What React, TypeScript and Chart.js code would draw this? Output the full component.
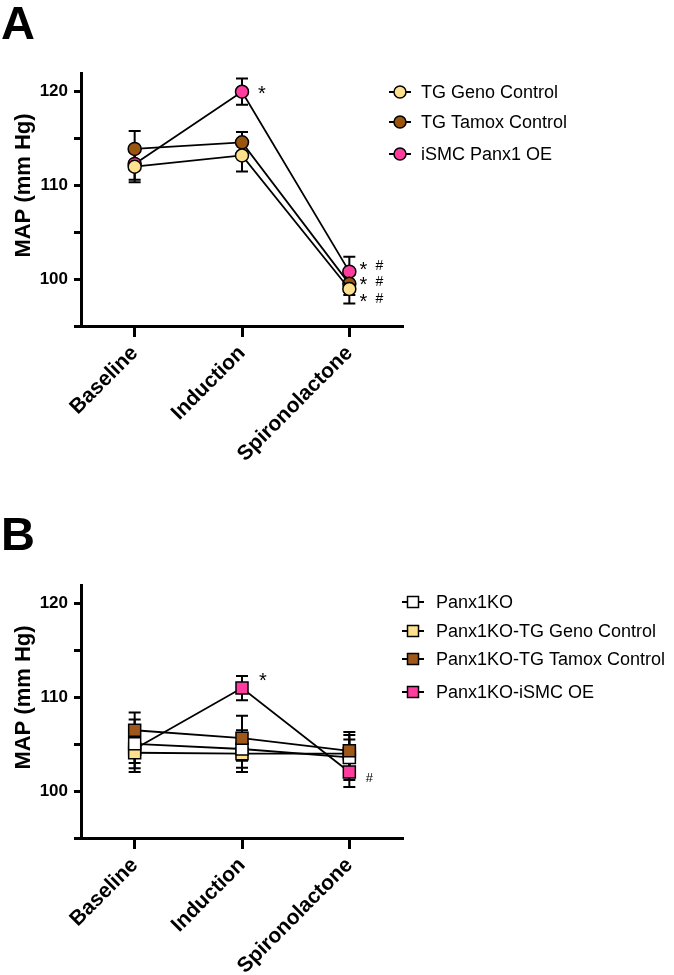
import React, { useEffect, useRef } from 'react';
import { Chart, registerables } from 'chart.js';

Chart.register(...registerables);

const FONT = "'Liberation Sans', Arial, Helvetica, sans-serif";

// ---------- shared ----------
const categories = ['Baseline', 'Induction', 'Spironolactone'];
const yMin = 95;
const yMax = 122;
const yTickValues = [95, 100, 105, 110, 115, 120];
const yLabelled = [100, 110, 120];
const yTitle = 'MAP (mm Hg)';

// ---------- panel A ----------
const seriesA = ['TG Geno Control', 'TG Tamox Control', 'iSMC Panx1 OE'];
const genoA = [112.0, 113.2, 98.95];
const genoAErr = [1.65, 1.7, 1.55];
const tamoxA = [113.9, 114.6, 99.5];
const tamoxAErr = [1.9, 1.1, 1.2];
const oeA = [112.3, 120.0, 100.8];
const oeAErr = [1.7, 1.4, 1.6];
const colorsA = ['#FFE08C', '#9A560F', '#FF3D9E'];
const drawOrderA = [0, 1, 2];
// significance marks: [category index, value]
const inductionStarsA = [[1, 120.1]];
const starsA = [[2, 101.4], [2, 99.7], [2, 97.9]];
const hashesA = [[2, 101.4], [2, 99.7], [2, 97.9]];

// ---------- panel B ----------
const seriesB = ['Panx1KO', 'Panx1KO-TG Geno Control', 'Panx1KO-TG Tamox Control', 'Panx1KO-iSMC OE'];
const koB = [105.05, 104.5, 103.6];
const koBErr = [2.6, 2.0, 2.4];
const genoB = [104.1, 104.0, 104.0];
const genoBErr = [2.05, 1.95, 1.5];
const tamoxB = [106.5, 105.65, 104.3];
const tamoxBErr = [1.9, 2.4, 2.0];
const oeB = [104.5, 111.0, 102.05];
const oeBErr = [1.5, 1.3, 1.6];
const colorsB = ['#FFFFFF', '#FFE08C', '#A0581A', '#FF3DA0'];
const drawOrderB = [1, 2, 0, 3];
const inductionStarsB = [[1, 112.1]];
const hashesB = [[2, 101.4]];

type Mark = number[];

function errorBarPlugin(errors: number[][]) {
  return {
    id: 'errorBars',
    beforeDatasetsDraw(chart: any) {
      const { ctx, scales } = chart;
      const x = scales.x;
      const y = scales.y;
      ctx.save();
      ctx.strokeStyle = '#000';
      ctx.lineWidth = 2;
      const cap = 6;
      chart.data.datasets.forEach((ds: any, i: number) => {
        const errs = errors[i];
        ds.data.forEach((v: number, j: number) => {
          const px = x.getPixelForValue(j);
          const top = y.getPixelForValue(v + errs[j]);
          const bot = y.getPixelForValue(v - errs[j]);
          ctx.beginPath();
          ctx.moveTo(px, top);
          ctx.lineTo(px, bot);
          ctx.moveTo(px - cap, top);
          ctx.lineTo(px + cap, top);
          ctx.moveTo(px - cap, bot);
          ctx.lineTo(px + cap, bot);
          ctx.stroke();
        });
      });
      ctx.restore();
    },
  };
}

interface Deco {
  letter: string;
  letterBaseline: number;
  inductionStars: Mark[];
  stars: Mark[];
  hashes: Mark[];
  inductionStarDx: number;
  starDx: number;
  hashDx: number;
  hashSize: number;
  legendX: number; // marker centre
  legendRows: number[];
  legendTextGap: number;
  shape: 'circle' | 'rect';
}

function decoPlugin(d: Deco) {
  return {
    id: 'deco',
    afterDraw(chart: any) {
      const { ctx, chartArea, scales } = chart;
      const x = scales.x;
      const y = scales.y;
      ctx.save();
      ctx.fillStyle = '#000';
      // panel letter
      ctx.font = `bold 47px ${FONT}`;
      ctx.textAlign = 'left';
      ctx.textBaseline = 'alphabetic';
      ctx.fillText(d.letter, 1, d.letterBaseline);
      // y title
      ctx.save();
      ctx.font = `bold 22px ${FONT}`;
      ctx.translate(24, (chartArea.top + chartArea.bottom) / 2 - 14);
      ctx.rotate(-Math.PI / 2);
      ctx.textAlign = 'center';
      ctx.textBaseline = 'middle';
      ctx.fillText(yTitle, 0, 0);
      ctx.restore();
      // significance marks
      ctx.textAlign = 'center';
      ctx.textBaseline = 'middle';
      ctx.font = `20px ${FONT}`;
      d.inductionStars.forEach(([c, v]) => {
        ctx.fillText('*', x.getPixelForValue(c) + d.inductionStarDx, y.getPixelForValue(v) + 4);
      });
      d.stars.forEach(([c, v]) => {
        ctx.fillText('*', x.getPixelForValue(c) + d.starDx, y.getPixelForValue(v) + 4);
      });
      ctx.font = `${d.hashSize}px ${FONT}`;
      d.hashes.forEach(([c, v]) => {
        ctx.fillText('#', x.getPixelForValue(c) + d.hashDx, y.getPixelForValue(v));
      });
      // legend
      chart.data.datasets.forEach((ds: any, i: number) => {
        const cy = d.legendRows[i];
        const cx = d.legendX;
        ctx.strokeStyle = '#000';
        ctx.lineWidth = 2;
        ctx.beginPath();
        ctx.moveTo(cx - 11, cy);
        ctx.lineTo(cx + 11, cy);
        ctx.stroke();
        ctx.fillStyle = ds.backgroundColor;
        ctx.lineWidth = 1.5;
        ctx.beginPath();
        if (d.shape === 'circle') {
          ctx.arc(cx, cy, 6, 0, Math.PI * 2);
        } else {
          ctx.rect(cx - 5.5, cy - 5.5, 11, 11);
        }
        ctx.fill();
        ctx.stroke();
        ctx.fillStyle = '#000';
        ctx.font = `18px ${FONT}`;
        ctx.textAlign = 'left';
        ctx.textBaseline = 'middle';
        ctx.fillText(ds.label, cx + d.legendTextGap, cy + 1);
      });
      ctx.restore();
    },
  };
}

function buildConfig(opts: {
  series: string[];
  values: number[][];
  errors: number[][];
  colors: string[];
  order: number[];
  pointStyle: string;
  radius: number;
  top: number;
  xHeight: number;
  deco: Deco;
}): any {
  return {
    type: 'line',
    data: {
      labels: categories,
      datasets: opts.series.map((name, i) => ({
        label: name,
        data: opts.values[i],
        order: opts.order[i],
        backgroundColor: opts.colors[i],
        borderColor: '#000',
        borderWidth: 1.8,
        pointStyle: opts.pointStyle,
        pointRadius: opts.radius,
        pointHoverRadius: opts.radius,
        pointBackgroundColor: opts.colors[i],
        pointBorderColor: '#000',
        pointBorderWidth: 1.5,
        tension: 0,
        clip: false,
      })),
    },
    options: {
      responsive: false,
      animation: false,
      events: [],
      layout: { padding: { top: opts.top, right: 271, left: 0, bottom: 0 } },
      plugins: { legend: { display: false }, tooltip: { enabled: false } },
      scales: {
        x: {
          type: 'category',
          offset: true,
          grid: {
            display: true,
            drawOnChartArea: false,
            drawTicks: true,
            tickLength: 11,
            tickWidth: 3,
            tickColor: '#000',
          },
          border: { display: true, width: 3, color: '#000' },
          ticks: {
            color: '#000',
            font: { family: FONT, size: 21, weight: 'bold' },
            maxRotation: 45,
            minRotation: 45,
            padding: 4,
            autoSkip: false,
          },
          afterFit: (s: any) => {
            s.height = opts.xHeight;
          },
        },
        y: {
          type: 'linear',
          min: yMin,
          max: yMax,
          grid: {
            display: true,
            drawOnChartArea: false,
            drawTicks: true,
            tickLength: 7,
            tickWidth: 3,
            tickColor: '#000',
          },
          border: { display: true, width: 3, color: '#000' },
          ticks: {
            color: '#000',
            font: { family: FONT, size: 17, weight: 'bold' },
            padding: 6,
            autoSkip: false,
            callback: (v: number) => (yLabelled.includes(v) ? String(v) : ''),
          },
          afterBuildTicks: (s: any) => {
            s.ticks = yTickValues.map((v) => ({ value: v }));
          },
          afterFit: (s: any) => {
            s.width = 81;
          },
        },
      },
    },
    plugins: [errorBarPlugin(opts.errors), decoPlugin(opts.deco)],
  };
}

function Panel({ config, width, height, top }: { config: any; width: number; height: number; top: number }) {
  const ref = useRef<HTMLCanvasElement | null>(null);
  useEffect(() => {
    if (!ref.current) return;
    const chart = new Chart(ref.current, config);
    return () => chart.destroy();
  }, [config]);
  return (
    <canvas
      ref={ref}
      width={width}
      height={height}
      style={{ position: 'absolute', left: 0, top, width, height, display: 'block' }}
    />
  );
}

const configA = buildConfig({
  series: seriesA,
  values: [genoA, tamoxA, oeA],
  errors: [genoAErr, tamoxAErr, oeAErr],
  colors: colorsA,
  order: drawOrderA,
  pointStyle: 'circle',
  radius: 6.5,
  top: 73,
  xHeight: 480 - 326,
  deco: {
    letter: 'A',
    letterBaseline: 39,
    inductionStars: inductionStarsA,
    stars: starsA,
    hashes: hashesA,
    inductionStarDx: 20,
    starDx: 14,
    hashDx: 30,
    hashSize: 14,
    legendX: 400,
    legendRows: [92, 122, 154],
    legendTextGap: 21,
    shape: 'circle',
  },
});

const configB = buildConfig({
  series: seriesB,
  values: [koB, genoB, tamoxB, oeB],
  errors: [koBErr, genoBErr, tamoxBErr, oeBErr],
  colors: colorsB,
  order: drawOrderB,
  pointStyle: 'rect',
  radius: 8.5,
  top: 105,
  xHeight: 495 - 358,
  deco: {
    letter: 'B',
    letterBaseline: 70,
    inductionStars: inductionStarsB,
    stars: [],
    hashes: hashesB,
    inductionStarDx: 21,
    starDx: 14,
    hashDx: 20,
    hashSize: 13,
    legendX: 413,
    legendRows: [122, 151, 179, 212],
    legendTextGap: 23,
    shape: 'rect',
  },
});

export default function App() {
  return (
    <div style={{ position: 'absolute', left: 0, top: 0, width: 674, height: 975, background: '#fff', overflow: 'hidden' }}>
      <Panel config={configA} width={674} height={480} top={0} />
      <Panel config={configB} width={674} height={495} top={480} />
    </div>
  );
}
